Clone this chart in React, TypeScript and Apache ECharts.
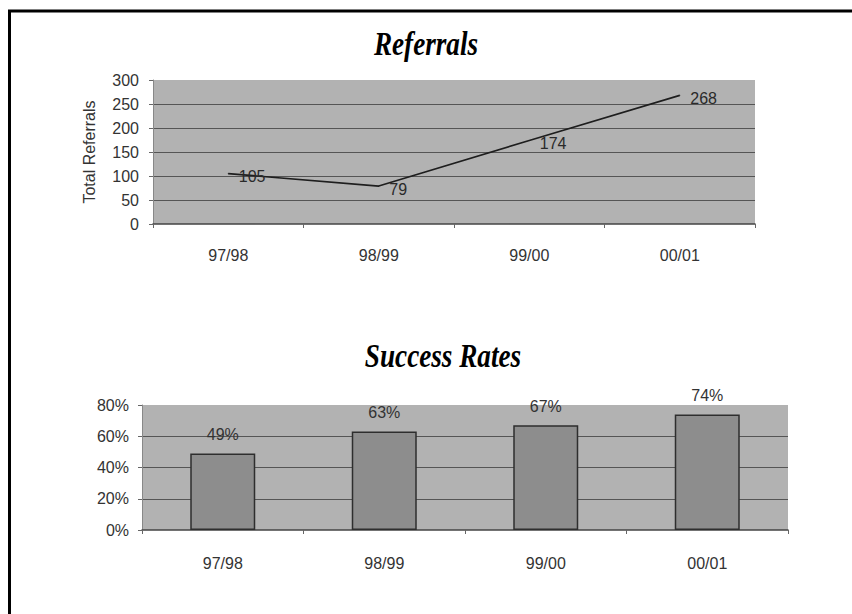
import React, { useEffect, useRef } from "react";
import * as echarts from "echarts";

const categories = ["97/98", "98/99", "99/00", "00/01"];
const referrals = [105, 79, 174, 268];
const successRates = [0.49, 0.63, 0.67, 0.74];
const referralTicks = { min: 0, max: 300, interval: 50 };
const rateTicks = { min: 0, max: 0.8, interval: 0.2 };

const SANS = '"Liberation Sans", Arial, sans-serif';
const SERIF = '"Liberation Serif", "Times New Roman", serif';
const TXT = "#333333";
const PLOT_BG = "#b2b2b2";
const GRID_LINE = "#555555";
const FS = 16;

export default function App() {
  const ref = useRef<HTMLDivElement>(null);
  useEffect(() => {
    document.body.style.margin = "0";
    const chart = echarts.init(ref.current!, null, { renderer: "svg" });
    const xAxisCommon = {
      type: "category",
      data: categories,
      boundaryGap: true,
      axisLine: { show: true, lineStyle: { color: "#444", width: 1.5 } },
      axisTick: { show: true, inside: false, length: 4, lineStyle: { color: "#666" } },
      axisLabel: { color: TXT, fontSize: FS, fontFamily: SANS },
      splitLine: { show: false },
    };
    const yAxisCommon = {
      type: "value",
      axisLine: { show: true, lineStyle: { color: "#888", width: 1 } },
      axisTick: { show: true, inside: false, length: 4, lineStyle: { color: "#666" } },
      splitLine: { show: true, showMaxLine: false, showMinLine: false, lineStyle: { color: GRID_LINE, width: 1.2 } },
    };
    chart.setOption({
      animation: false,
      backgroundColor: "#ffffff",
      grid: [
        { left: 153, top: 80, width: 602, height: 144, show: true, backgroundColor: PLOT_BG, borderWidth: 0 },
        { left: 142, top: 405, width: 646, height: 125, show: true, backgroundColor: PLOT_BG, borderWidth: 0 },
      ],
      xAxis: [
        { ...xAxisCommon, gridIndex: 0, axisLabel: { ...xAxisCommon.axisLabel, margin: 23 } },
        { ...xAxisCommon, gridIndex: 1, axisLabel: { ...xAxisCommon.axisLabel, margin: 25 } },
      ],
      yAxis: [
        {
          ...yAxisCommon,
          gridIndex: 0,
          min: referralTicks.min,
          max: referralTicks.max,
          interval: referralTicks.interval,
          name: "Total Referrals",
          nameLocation: "middle",
          nameRotate: 90,
          nameGap: 56,
          nameTextStyle: { color: TXT, fontSize: FS, fontFamily: SANS },
          axisLabel: { color: TXT, fontSize: FS, fontFamily: SANS, margin: 14 },
        },
        {
          ...yAxisCommon,
          gridIndex: 1,
          min: rateTicks.min,
          max: rateTicks.max,
          interval: rateTicks.interval,
          axisLabel: {
            color: TXT,
            fontSize: FS,
            fontFamily: SANS,
            margin: 13,
            formatter: (v: number) => Math.round(v * 100) + "%",
          },
        },
      ],
      series: [
        {
          type: "line",
          xAxisIndex: 0,
          yAxisIndex: 0,
          data: referrals,
          symbol: "circle",
          symbolSize: 1,
          showSymbol: true,
          itemStyle: { color: "#1e1e1e" },
          lineStyle: { color: "#1e1e1e", width: 1.6 },
          label: {
            show: true,
            position: "right",
            distance: 10,
            offset: [0, 3],
            color: "#2a2a2a",
            fontSize: FS,
            fontFamily: SANS,
          },
        },
        {
          type: "bar",
          xAxisIndex: 1,
          yAxisIndex: 1,
          data: successRates,
          barWidth: 65,
          itemStyle: { color: "#8d8d8d", borderColor: "#2e2e2e", borderWidth: 1.5 },
          label: {
            show: true,
            position: "top",
            distance: 11,
            color: TXT,
            fontSize: FS,
            fontFamily: SANS,
            formatter: (p: any) => Math.round(p.value * 100) + "%",
          },
        },
      ],
      graphic: [
        { type: "line", shape: { x1: 8, y1: 11, x2: 852, y2: 11 }, style: { stroke: "#000", lineWidth: 3 } },
        { type: "line", shape: { x1: 9.5, y1: 10, x2: 9.5, y2: 614 }, style: { stroke: "#000", lineWidth: 3 } },
        {
          type: "text",
          x: 426,
          y: 44,
          scaleX: 0.8,
          style: {
            text: "Referrals",
            align: "center",
            verticalAlign: "middle",
            font: `italic bold 34px ${SERIF}`,
            fill: "#000",
          },
        },
        {
          type: "text",
          x: 443,
          y: 356,
          scaleX: 0.8,
          style: {
            text: "Success Rates",
            align: "center",
            verticalAlign: "middle",
            font: `italic bold 34px ${SERIF}`,
            fill: "#000",
          },
        },
      ],
    });
    return () => chart.dispose();
  }, []);
  return (
    <div
      ref={ref}
      style={{ position: "fixed", left: 0, top: 0, width: 852, height: 614 }}
    />
  );
}
